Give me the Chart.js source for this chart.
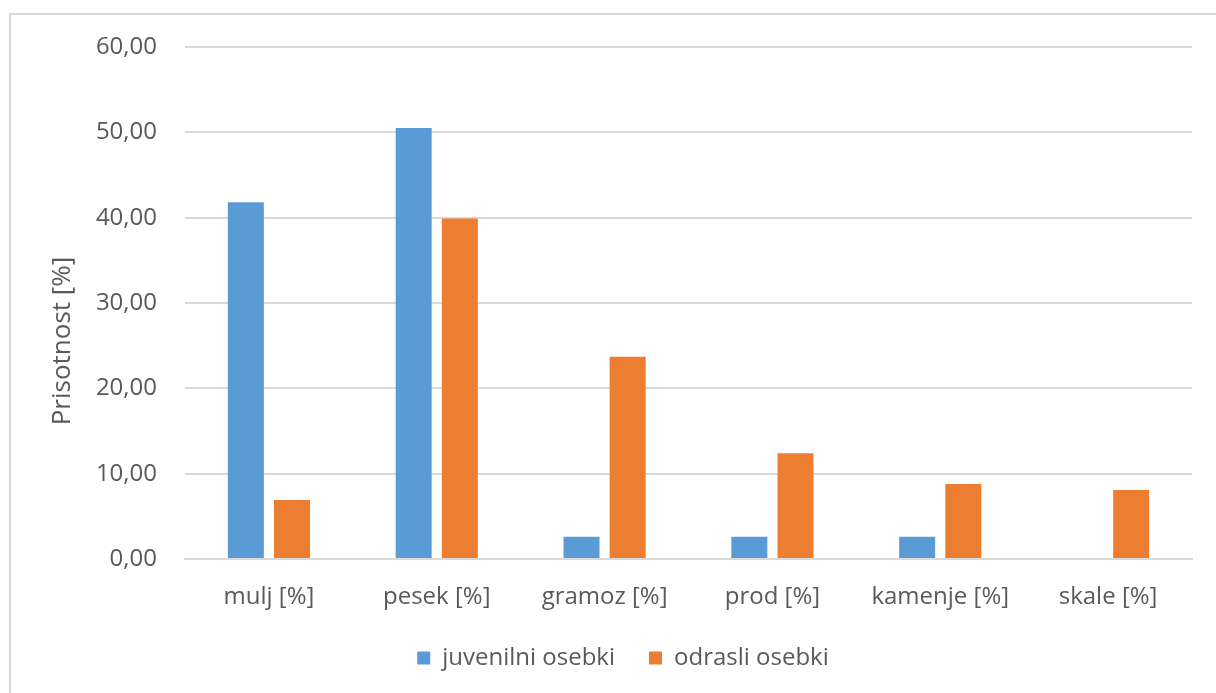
<!DOCTYPE html>
<html>
<head>
<meta charset="utf-8">
<script src="https://cdn.jsdelivr.net/npm/chart.js@4.4.1/dist/chart.umd.min.js"></script>
<style>
  html, body { margin: 0; padding: 0; background: #ffffff; overflow: hidden; }
  #frame { position: absolute; left: 9px; top: 13px; width: 1230px; height: 720px; border: 2px solid #d9d9d9; box-sizing: border-box; }
  #wrap { position: absolute; left: 0; top: 0; width: 1216px; height: 693px; }
</style>
</head>
<body>
<div id="frame"></div>
<div id="wrap"><canvas id="c" width="1216" height="693"></canvas></div>
<script>
const categories = ["mulj [%]", "pesek [%]", "gramoz [%]", "prod [%]", "kamenje [%]", "skale [%]"];
const juvenilni = [41.8, 50.5, 2.6, 2.6, 2.6, 0];
const odrasli = [6.9, 39.9, 23.7, 12.4, 8.8, 8.1];
const seriesNames = ["juvenilni osebki", "odrasli osebki"];
const yTitle = "Prisotnost [%]";
const yMin = 0, yMax = 60, yStep = 10;

const FONT = "'Open Sans', 'Noto Sans', sans-serif";
const TEXT = "#595959";

const yTitlePlugin = {
  id: 'yTitle',
  afterDraw(chart) {
    const ctx = chart.ctx;
    ctx.save();
    ctx.translate(63, 341);
    ctx.rotate(-Math.PI / 2);
    ctx.font = "26px " + FONT;
    ctx.fillStyle = TEXT;
    ctx.textAlign = 'center';
    ctx.textBaseline = 'middle';
    ctx.fillText(yTitle, 0, 0);
    ctx.restore();
  }
};

new Chart(document.getElementById('c'), {
  type: 'bar',
  data: {
    labels: categories,
    datasets: [
      { label: seriesNames[0], data: juvenilni, backgroundColor: '#5b9bd5', borderWidth: 0,
        categoryPercentage: 0.55, barPercentage: 0.78 },
      { label: seriesNames[1], data: odrasli, backgroundColor: '#ed7d31', borderWidth: 0,
        categoryPercentage: 0.55, barPercentage: 0.78 }
    ]
  },
  options: {
    responsive: false,
    animation: false,
    devicePixelRatio: 1,
    layout: { padding: { left: 54, right: 24, top: 47, bottom: 13 } },
    plugins: {
      legend: {
        position: 'bottom',
        labels: {
          font: { family: FONT, size: 24 },
          color: TEXT,
          boxWidth: 13,
          boxHeight: 13,
          padding: 34
        }
      },
      tooltip: { enabled: false }
    },
    scales: {
      x: {
        afterFit(scale) { scale.height = 53; },
        grid: { display: false, drawTicks: false },
        border: { display: true, color: '#d9d9d9', width: 2 },
        ticks: { font: { family: FONT, size: 24 }, color: TEXT, padding: 24, maxRotation: 0 }
      },
      y: {
        min: yMin, max: yMax,
        afterFit(scale) { scale.width = 131; },
        grid: { color: '#d9d9d9', lineWidth: 2, drawTicks: false },
        border: { display: false },
        ticks: {
          stepSize: yStep,
          font: { family: FONT, size: 24 },
          color: TEXT,
          padding: 28,
          callback: v => v.toFixed(2).replace('.', ',')
        }
      }
    }
  },
  plugins: [yTitlePlugin]
});
</script>
</body>
</html>
